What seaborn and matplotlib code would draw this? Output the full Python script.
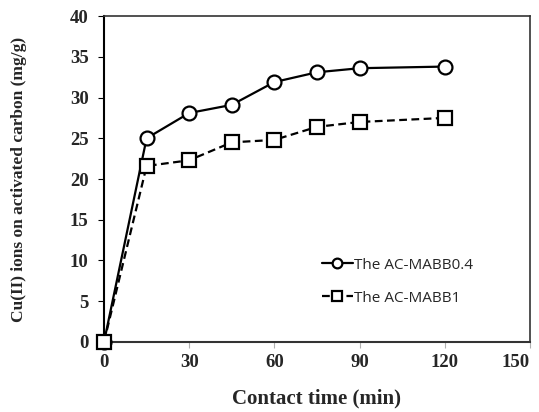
import matplotlib
matplotlib.use("Agg")
import matplotlib.pyplot as plt
import matplotlib.transforms as mtrans
import seaborn as sns
import pandas as pd

time_min = [0, 15, 30, 45, 60, 75, 90, 120]
mabb04 = [0, 25.0, 28.1, 29.1, 31.9, 33.1, 33.6, 33.8]
mabb1 = [0, 21.6, 22.3, 24.5, 24.8, 26.4, 27.0, 27.5]
series_names = ["The AC-MABB0.4", "The AC-MABB1"]
x_ticks = [0, 30, 60, 90, 120, 150]
y_ticks = [0, 5, 10, 15, 20, 25, 30, 35, 40]

sns.set_theme(style="white")
plt.rcParams['font.family'] = ['Liberation Serif', 'DejaVu Serif']

fig = plt.figure(figsize=(5.39, 4.12), dpi=100)
ax = fig.add_axes([0.193, 0.170, 0.790, 0.791])

df1 = pd.DataFrame({"t": time_min, "q": mabb04})
df2 = pd.DataFrame({"t": time_min, "q": mabb1})
sns.lineplot(data=df1, x="t", y="q", ax=ax, color="black", lw=1.6,
             marker="o", markersize=10, markerfacecolor="white",
             markeredgecolor="black", markeredgewidth=1.6, label=series_names[0],
             clip_on=False, zorder=3)
sns.lineplot(data=df2, x="t", y="q", ax=ax, color="black", lw=1.6,
             linestyle=(0, (3.5, 2)), marker="s", markersize=9.5,
             markerfacecolor="white", markeredgecolor="black",
             markeredgewidth=1.6, label=series_names[1], clip_on=False, zorder=3)

ax.set_xlim(0, 150)
ax.set_ylim(0, 40)
ax.set_xticks(x_ticks)
ax.set_yticks(y_ticks)
ax.set_xticklabels([str(v) for v in x_ticks], fontsize=13.5, fontweight="bold")
ax.set_yticklabels([str(v) for v in y_ticks], fontsize=13.5, fontweight="bold")
lbls = ax.get_xticklabels()
lbls[-1].set_horizontalalignment("right")
lbls[-1].set_transform(lbls[-1].get_transform() + mtrans.ScaledTranslation(0.07, 0, fig.dpi_scale_trans))
ax.tick_params(axis="both", direction="out", length=4, width=0.8,
               color="#b0b0b0", pad=5, bottom=True, left=True)
ax.tick_params(axis="y", color="black", pad=7)
ax.set_xlabel("Contact time (min)", fontsize=15, fontweight="bold", labelpad=12)
ax.set_ylabel("Cu(II) ions on activated carbon (mg/g)", fontsize=12.5,
              fontweight="bold", labelpad=31)
for s in ax.spines.values():
    s.set_color("#333333")
    s.set_linewidth(1.2)
ax.spines["left"].set_color("black")
ax.spines["left"].set_linewidth(1.5)
ax.spines["bottom"].set_linewidth(1.5)

leg = ax.legend(loc="center left", bbox_to_anchor=(0.48, 0.185), frameon=False,
                prop={"family": ["Open Sans"], "size": 11},
                handlelength=2.0, handletextpad=0.1, labelspacing=1.2,
                markerscale=0.7)
fig.savefig("out.png", dpi=100)
